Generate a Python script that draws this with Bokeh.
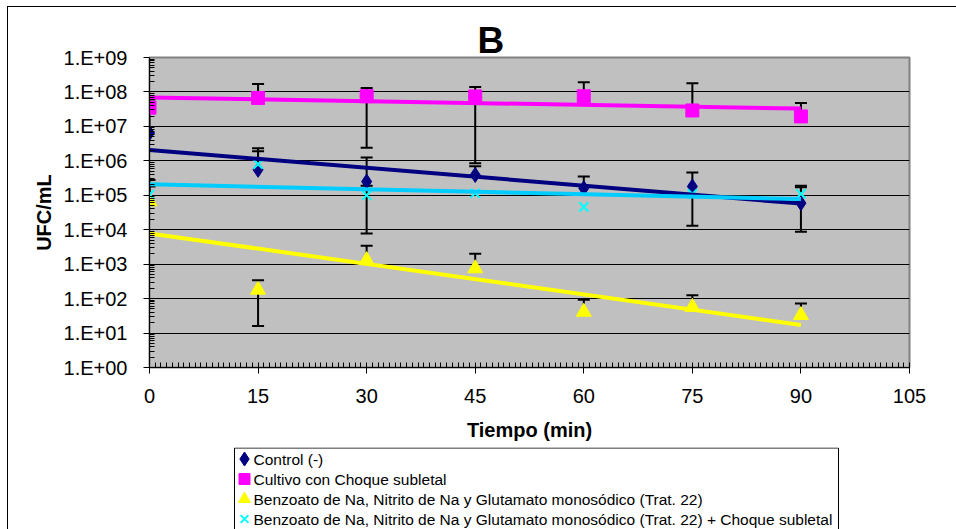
import math
import numpy as np
from bokeh.plotting import figure
from bokeh.layouts import column
from bokeh.models import FixedTicker, Title, Range1d, Div
from bokeh.core.properties import value
from bokeh.embed import file_html
from bokeh.resources import INLINE

nan = float("nan")

# ---------------- data ----------------
tiempo = [0, 15, 30, 45, 60, 75, 90]

control = [6.4e6, 5.5e5, 2.5e5, 3.9e5, 1.6e5, 1.8e5, 5.9e4]
control_sup = [3.5e7, 2.3e6, 1.26e6, 7.0e5, 3.5e5, 4.6e5, 1.9e5]
control_inf = [nan, nan, nan, nan, nan, 1.3e4, 8.7e3]

choque = [3.5e7, 6.7e7, 7.5e7, 7.4e7, 7.5e7, 2.9e7, 1.95e7]
choque_sup = [6.0e7, 1.7e8, 1.3e8, 1.4e8, 1.9e8, 1.8e8, 4.8e7]
choque_inf = [nan, nan, 2.4e6, 8.5e5, nan, nan, nan]

trat22 = [6.6e4, 1.8e2, 1.3e3, 7.5e2, 41, 57, 33]
trat22_sup = [1.8e5, 3.4e2, 3.4e3, 2.0e3, 93, 125, 72]
trat22_inf = [nan, 16, nan, nan, nan, nan, nan]

trat22_choque = [1.05e5, 8.0e5, 1.0e5, 1.15e5, 4.6e4, 1.1e5, 1.1e5]
trat22_choque_sup = [2.8e5, 1.9e6, 1.9e5, nan, nan, nan, 1.7e5]
trat22_choque_inf = [nan, nan, 7.8e3, nan, nan, nan, nan]

nombres = [
    "Control (-)",
    "Cultivo con Choque subletal",
    "Benzoato de Na, Nitrito de Na y Glutamato monosódico (Trat. 22)",
    "Benzoato de Na, Nitrito de Na y Glutamato monosódico (Trat. 22) + Choque subletal",
]

x_ticks = [0, 15, 30, 45, 60, 75, 90, 105]
y_ticks = [1e0, 1e1, 1e2, 1e3, 1e4, 1e5, 1e6, 1e7, 1e8, 1e9]
y_tick_labels = ["1.E+00", "1.E+01", "1.E+02", "1.E+03", "1.E+04",
                 "1.E+05", "1.E+06", "1.E+07", "1.E+08", "1.E+09"]

# ---------------- main figure ----------------
FONT = "Liberation Sans"
LEFT, FRAME_W, RIGHT = 149, 760, 47

p = figure(
    output_backend="svg", toolbar_location=None,
    x_range=(0, 105), y_range=(1, 1e9), y_axis_type="log",
    frame_width=FRAME_W, frame_height=310,
    min_border_left=LEFT, min_border_right=RIGHT,
    min_border_top=57, min_border_bottom=80,
)
p.background_fill_color = "#C0C0C0"
p.border_fill_color = "white"
p.outline_line_color = "#808080"
p.outline_line_width = 2

p.title = Title(text="B", align="left", offset=328, standoff=-6,
                text_font=FONT, text_font_size="37px", text_font_style="bold",
                text_color="black")

minor_x = [i * 15 / 19 for i in range(0, 19 * 7 + 1)]
p.xaxis.ticker = FixedTicker(ticks=x_ticks, minor_ticks=minor_x)
minor_y = [k * 10 ** d for d in range(0, 9) for k in range(2, 10)]
p.yaxis.ticker = FixedTicker(ticks=y_ticks, minor_ticks=minor_y)
p.yaxis.major_label_overrides = {float(v): lab for v, lab in zip(y_ticks, y_tick_labels)}

for ax in (p.xaxis[0], p.yaxis[0]):
    ax.axis_line_color = "black"
    ax.axis_line_width = 1
    ax.major_tick_line_color = "black"
    ax.minor_tick_line_color = "black"
    ax.major_tick_out = 6
    ax.major_tick_in = 0
    ax.minor_tick_in = 5
    ax.minor_tick_out = 0
    ax.major_label_text_font = FONT
    ax.major_label_text_font_size = "20px"
    ax.major_label_text_color = "black"
    ax.axis_label_text_font = FONT
    ax.axis_label_text_font_size = "20px"
    ax.axis_label_text_font_style = "bold"
    ax.axis_label_text_color = "black"

p.xaxis.axis_label = "Tiempo (min)"
p.yaxis.axis_label = "UFC/mL"
p.xaxis.major_label_standoff = 15
p.xaxis.axis_label_standoff = 13
p.yaxis.major_label_standoff = 16
p.yaxis.axis_label_standoff = 6

p.xgrid.visible = False
p.ygrid.grid_line_color = "black"
p.ygrid.grid_line_width = 1

series = [
    (control, control_sup, control_inf, dict(marker="diamond", size=15, fill_color="#000080", line_color="#000080"), "#000080"),
    (choque, choque_sup, choque_inf, dict(marker="square", size=13, fill_color="#FF00FF", line_color="#FF00FF"), "#FF00FF"),
    (trat22, trat22_sup, trat22_inf, dict(marker="triangle", size=15, fill_color="#FFFF00", line_color="#FFFF00"), "#FFFF00"),
    (trat22_choque, trat22_choque_sup, trat22_choque_inf, dict(marker="x", size=13, line_color="#00FFFF", line_width=2), "#00CCFF"),
]

# error bars
for vals, sup, inf, _, _ in series:
    x0, y0, y1, cx, cy = [], [], [], [], []
    for t, v, s, i in zip(tiempo, vals, sup, inf):
        hi = v if math.isnan(s) else s
        lo = v if math.isnan(i) else i
        if hi != lo:
            x0.append(t); y0.append(lo); y1.append(hi)
        if not math.isnan(s):
            cx.append(t); cy.append(s)
        if not math.isnan(i):
            cx.append(t); cy.append(i)
    p.segment(x0=x0, y0=y0, x1=x0, y1=y1, line_color="black", line_width=2)
    p.scatter(x=cx, y=cy, marker="dash", size=12, line_color="black", line_width=2)

# markers
for vals, _, _, mk, _ in series:
    p.scatter(x=tiempo, y=vals, **mk)

# exponential trendlines (least squares on log10 values, like Excel)
for vals, _, _, _, lc in series:
    slope, icpt = np.polyfit(tiempo, np.log10(vals), 1)
    xs = [tiempo[0], tiempo[-1]]
    ys = [10 ** (icpt + slope * xx) for xx in xs]
    p.line(x=xs, y=ys, line_color=lc, line_width=4)

# ---------------- legend strip (below the chart) ----------------
LEG_H = 82
q = figure(
    output_backend="svg", toolbar_location=None,
    width=LEFT + FRAME_W + RIGHT, height=LEG_H,
    x_range=Range1d(LEFT, LEFT + FRAME_W), y_range=Range1d(LEG_H, 0),
    x_axis_location=None, y_axis_location=None,
    min_border_left=LEFT, min_border_right=RIGHT, min_border_top=0, min_border_bottom=0,
)
q.grid.visible = False
q.outline_line_color = None
q.background_fill_color = "white"
q.border_fill_color = "white"

box_left, box_right, box_top = 234, 838, 0.5
row0, row_step = 11.5, 20
q.quad(left=[box_left], right=[box_right], top=[box_top], bottom=[LEG_H + 10],
       fill_color="white", line_color="black", line_width=1)
for i, (nombre, (_, _, _, mk, _)) in enumerate(zip(nombres, series)):
    yy = row0 + row_step * i
    mk2 = dict(mk)
    mk2["size"] = {"diamond": 14, "square": 11, "triangle": 12, "x": 11}[mk["marker"]]
    q.scatter(x=[box_left + 10], y=[yy], **mk2)
    q.text(x=[box_left + 19], y=[yy], text=[nombre], text_font=value(FONT),
           text_font_size=value("15.5px"), text_baseline="middle", text_align="left",
           text_color="black")

# outer chart border (left and top edges visible in the window)
border = Div(
    text='<div style="position:fixed;left:7px;top:6px;width:949px;height:523px;'
         'border-left:1px solid #000;border-top:1px solid #000;'
         'pointer-events:none;box-sizing:border-box"></div>',
    width=0, height=0,
)

layout = column(p, q, border, spacing=0)
open("out.html", "w").write(file_html(layout, INLINE))
